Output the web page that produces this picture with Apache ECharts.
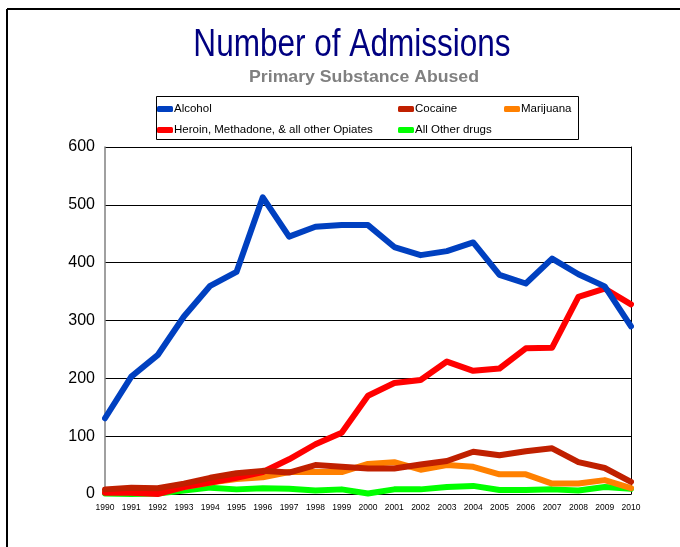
<!DOCTYPE html>
<html><head><meta charset="utf-8">
<script src="https://cdn.jsdelivr.net/npm/echarts@6/dist/echarts.min.js"></script>
<style>html,body{margin:0;padding:0;background:#fff}#c{width:680px;height:547px}</style>
</head><body><div id="c"></div>
<script>
const years = ['1990','1991','1992','1993','1994','1995','1996','1997','1998','1999','2000','2001','2002','2003','2004','2005','2006','2007','2008','2009','2010'];
const alcohol   = [131,203,240,307,360,384,513,445,462,465,465,427,413,420,435,379,364,407,380,359,290];
const cocaine   = [8,11,10,18,28,36,40,37,50,47,44,44,51,57,73,67,74,79,55,45,21];
const marijuana = [5,4,4,12,20,26,29,38,38,38,52,55,42,50,47,34,34,18,18,24,10];
const heroin    = [2,2,0,12,20,28,38,60,86,106,170,192,197,229,213,217,252,253,341,355,328];
const other     = [1,0,1,6,11,8,10,9,6,8,1,8,8,12,14,7,7,8,6,12,9];
const yTicks = [0,100,200,300,400,500,600];

const names = ['Alcohol','Cocaine','Marijuana','Heroin, Methadone, & all other Opiates','All Other drugs'];
const colors = {'Alcohol':'#0040C0','Cocaine':'#C02000','Marijuana':'#FF8000','Heroin, Methadone, & all other Opiates':'#FF0000','All Other drugs':'#00FF00'};
const dataMap = {'Alcohol':alcohol,'Cocaine':cocaine,'Marijuana':marijuana,'Heroin, Methadone, & all other Opiates':heroin,'All Other drugs':other};
const drawOrder = ['All Other drugs','Marijuana','Heroin, Methadone, & all other Opiates','Cocaine','Alcohol'];

const legendPos = {
  'Alcohol':[157,103],
  'Cocaine':[398,103],
  'Marijuana':[504,103],
  'Heroin, Methadone, & all other Opiates':[157,124],
  'All Other drugs':[398,124]
};
const legendFont = {fontFamily:'"Liberation Sans",Arial',fontSize:11.5,color:'#000',padding:[0,0,0,-4]};

const chart = echarts.init(document.getElementById('c'), null, {renderer:'canvas'});
chart.setOption({
  animation:false,
  backgroundColor:'#fff',
  graphic:[
    {type:'line',shape:{x1:7,y1:9,x2:680,y2:9},style:{stroke:'#000',lineWidth:2}},
    {type:'line',shape:{x1:7,y1:9,x2:7,y2:547},style:{stroke:'#000',lineWidth:2}},
    {type:'rect',shape:{x:156.5,y:96.5,width:422,height:43},style:{fill:'none',stroke:'#000',lineWidth:1},z:0},
    {type:'text',x:352,y:46,scaleX:0.83,
     style:{text:'Number of Admissions',fill:'#000080',font:'38px "Liberation Sans", Arial',textAlign:'center',textVerticalAlign:'middle'}},
    {type:'text',x:364,y:77,scaleX:1.04,
     style:{text:'Primary Substance Abused',fill:'#808080',font:'bold 17px "Liberation Sans", Arial',textAlign:'center',textVerticalAlign:'middle'}}
  ],
  legend: names.map(n=>({
    data:[n],left:legendPos[n][0],top:legendPos[n][1],
    itemWidth:16,itemHeight:6,itemGap:0,padding:0,
    icon:'roundRect',
    textStyle:legendFont,
    selectedMode:false
  })),
  grid:{left:105,right:49,top:147,bottom:53,containLabel:false,show:false},
  xAxis:{
    type:'category',data:years,boundaryGap:false,
    axisLine:{show:true,lineStyle:{color:'#000',width:1}},
    axisTick:{show:false},
    axisLabel:{fontFamily:'"Liberation Sans",Arial',fontSize:8.5,color:'#000',margin:9,interval:0},
    splitLine:{show:false}
  },
  yAxis:[{
    type:'value',min:0,max:600,interval:100,
    axisLine:{show:true,lineStyle:{color:'#808080',width:1.5}},
    axisTick:{show:false},
    axisLabel:{fontFamily:'"Liberation Sans",Arial',fontSize:16,color:'#000',margin:10,
      formatter:v=>yTicks.includes(v)?String(v):''},
    splitLine:{show:true,lineStyle:{color:'#000',width:1}}
  },{
    type:'value',min:0,max:600,interval:100,position:'right',
    axisLine:{show:true,lineStyle:{color:'#000',width:1}},
    axisTick:{show:false},axisLabel:{show:false},splitLine:{show:false}
  }],
  series: drawOrder.map((n,i)=>({
    name:n,type:'line',data:dataMap[n],
    color:colors[n],
    lineStyle:{width:6,color:colors[n],cap:'round',join:'round'},
    itemStyle:{color:colors[n]},
    showSymbol:false,symbol:'none',
    z:2+i
  }))
});
</script></body></html>
